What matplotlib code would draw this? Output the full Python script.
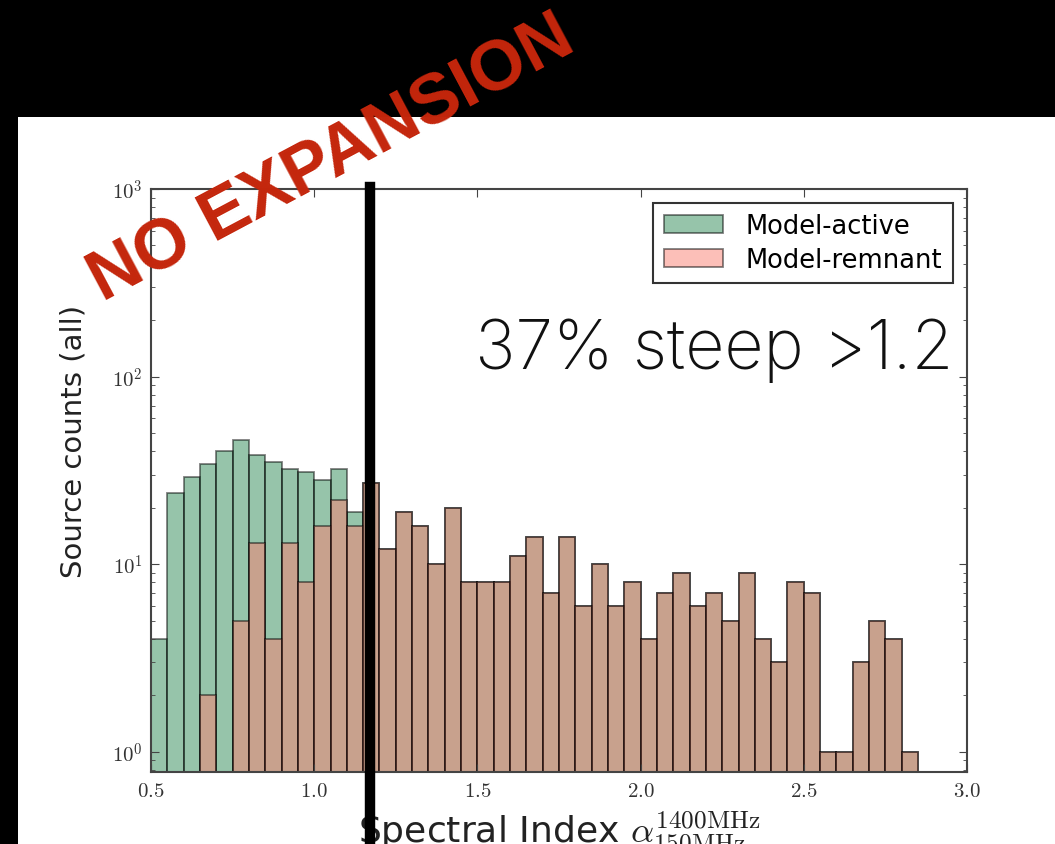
import numpy as np
import matplotlib
matplotlib.use('Agg')
import matplotlib.pyplot as plt
from matplotlib.patches import Rectangle
from matplotlib.lines import Line2D
from matplotlib.ticker import FuncFormatter, LogLocator, NullFormatter

plt.rcParams['mathtext.fontset'] = 'cm'

# histogram bins (spectral index), width 0.05
bin_start = 0.5
bin_width = 0.05
n_bins = 47

# counts, one per bin from 0.50 to 2.85
active_counts = [4, 24, 29, 34, 40, 46, 38, 35, 32, 31, 28, 32, 19,
                 27, 12, 19, 16, 10, 20, 8, 8, 8, 11, 14, 7, 14, 6, 10, 6, 8,
                 4, 7, 9, 6, 7, 5, 9, 4, 3, 8, 7, 1, 1, 3, 5, 4, 1]
remnant_counts = [0, 0, 0, 2, 0, 5, 13, 4, 13, 8, 16, 22, 16,
                  27, 12, 19, 16, 10, 20, 8, 8, 8, 11, 14, 7, 14, 6, 10, 6, 8,
                  4, 7, 9, 6, 7, 5, 9, 4, 3, 8, 7, 1, 1, 3, 5, 4, 1]
series_labels = ['Model-active', 'Model-remnant']

x_ticks = [0.5, 1.0, 1.5, 2.0, 2.5, 3.0]
y_ticks = [1, 10, 100, 1000]
y_tick_labels = [r'$10^{0}$', r'$10^{1}$', r'$10^{2}$', r'$10^{3}$']

edges = bin_start + bin_width * np.arange(n_bins + 1)
centers = 0.5 * (edges[:-1] + edges[1:])

W, H = 1055, 845
fig = plt.figure(figsize=(W / 100, H / 100), dpi=100)
fig.patch.set_facecolor('black')

# white slide panel, behind everything
fig.patches.append(Rectangle((18 / W, 0), (W - 18) / W, (H - 118) / H,
                             transform=fig.transFigure, facecolor='white',
                             edgecolor='none', zorder=-5))

ax = fig.add_axes([151 / W, 1 - 773 / H, (967 - 151) / W, (773 - 190) / H])
ax.set_facecolor('white')

ax.hist(centers, bins=edges, weights=active_counts, log=True,
        color='seagreen', alpha=0.5, edgecolor='black', linewidth=1.3,
        label=series_labels[0])
ax.hist(centers, bins=edges, weights=remnant_counts, log=True,
        color='salmon', alpha=0.5, edgecolor='black', linewidth=1.3,
        label=series_labels[1])

ax.set_yscale('log')
ax.set_xlim(0.5, 3.0)
ax.set_ylim(0.78, 1000)
ax.set_xticks(x_ticks)
ax.xaxis.set_major_formatter(FuncFormatter(lambda v, p: f'${v:.1f}$'))
ax.set_yticks(y_ticks)
ax.set_yticklabels(y_tick_labels)
ax.yaxis.set_minor_locator(LogLocator(base=10, subs=np.arange(2, 10)))
ax.yaxis.set_minor_formatter(NullFormatter())
ax.tick_params(which='both', direction='in', top=True, right=True,
               colors='#444444', labelcolor='#333333')
ax.tick_params(which='major', length=6, labelsize=15, pad=6)
ax.tick_params(which='minor', length=3)
for s in ax.spines.values():
    s.set_color('#444444')
    s.set_linewidth(1.5)

ax.set_ylabel('Source counts (all)', fontsize=21, color='#222222')
ax.yaxis.set_label_coords(-0.078, 0.568)
ax.set_xlabel(r'Spectral Index $\alpha^{\rm 1400MHz}_{\rm 150MHz}$',
              fontsize=26, color='#222222', labelpad=6)

leg = ax.legend(loc='upper right', fontsize=18.5, handlelength=2.3,
                borderaxespad=0.55, fancybox=False, framealpha=1,
                borderpad=0.4, labelspacing=0.3, handletextpad=0.9)
leg.get_frame().set_edgecolor('#333333')
leg.get_frame().set_linewidth(1.5)

# slide annotations
fig.lines.append(Line2D([370 / W, 370 / W], [0, 1 - 188 / H],
                        transform=fig.transFigure, color='black',
                        linewidth=7.5, zorder=10))
fig.text(475 / W, 1 - 369 / H, '37% steep >1.2', fontsize=49,
         family=['Inter', 'Roboto', 'DejaVu Sans'], weight='light',
         ha='left', va='baseline', color='#111111')
fig.text(332 / W, 1 - 160 / H, 'NO EXPANSION', fontsize=51,
         family=['Liberation Sans', 'DejaVu Sans'], weight='bold',
         rotation=28.0, rotation_mode='anchor', ha='center', va='center',
         color='#c4260c', zorder=11)

fig.savefig('out.png', dpi=100, facecolor=fig.get_facecolor())
